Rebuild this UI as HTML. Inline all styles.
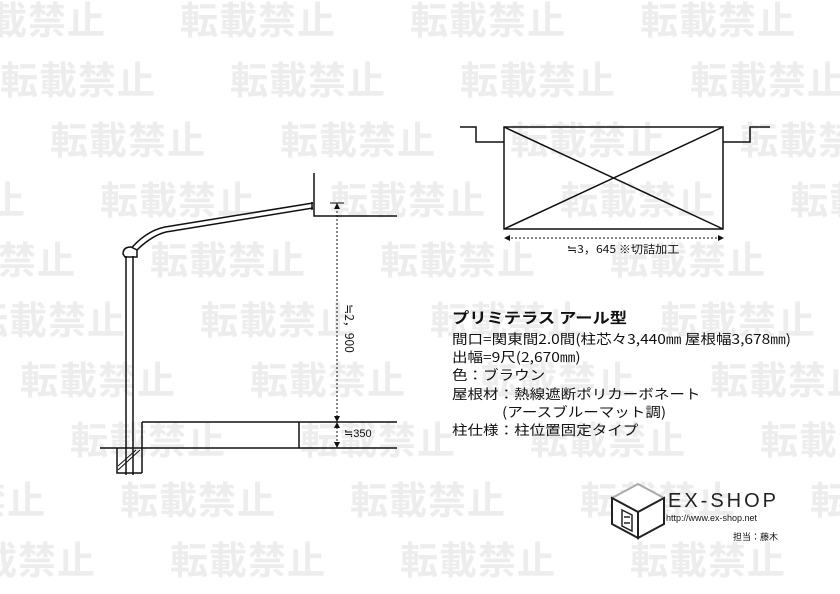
<!DOCTYPE html>
<html><head><meta charset="utf-8"><style>
html,body{margin:0;width:840px;height:594px;overflow:hidden;background:#fff}
#c{position:relative;width:840px;height:594px;overflow:hidden;font-family:"Liberation Sans","Noto Sans CJK JP",sans-serif}
.wm{position:absolute;font:bold 38px "Noto Sans CJK JP",sans-serif;color:#ededed;letter-spacing:1px;white-space:nowrap}
.t{position:absolute;font-size:13px;color:#111;white-space:nowrap;font-family:"Noto Sans CJK JP",sans-serif}
.s{transform-origin:0 0;transform:scaleX(1.15);font-size:13.5px}
svg{position:absolute;left:0;top:0}
</style></head><body><div id="c">
<div id="w"></div>
<script>
var s='';for(var k=0;k<10;k++){var off=(180+50*k)%230-230;for(var x=off;x<840;x+=230){s+='<div class="wm" style="left:'+x+'px;top:'+(k*60-10)+'px">転載禁止</div>';}}
document.getElementById('w').innerHTML=s;
</script>
<svg width="840" height="594" viewBox="0 0 840 594">
<g stroke="#111" fill="none" stroke-width="1.5">
<path d="M314 173V216H397"/>
<path d="M313 203L165 227Q145 231 128 252"/>
<path d="M313 208L166 232Q150 236 133 254"/>
<path d="M312 202v8"/>
<path d="M123 254q0-7 8-7l6 3v7h-12z" fill="#fff"/>
<path d="M126 256V475M133 256V475"/>
<path d="M100 448H397M142 422H397M142 422V473M117 448V473H142M299 422V448"/>
<path d="M118 470L140 450M118 466L136 450" stroke-width="1"/>
<path d="M337 203V448" stroke-dasharray="2 2" stroke-width="1"/>
<path d="M330 203H344M330 422H344M330 448H344" stroke-width="1"/>
<path d="M504 127H723V229H504ZM504 127L723 229M504 229L723 127"/>
<path d="M460 127H476V142H504M723 142H750V127H770"/>
<path d="M507 238H721" stroke-dasharray="2 2" stroke-width="1"/>
</g>
<g fill="#111"><path d="M504 238l6-3v6zM724 238l-6-3v6zM337 203l-3 6h6zM337 422l-3-6h6zM337 422l-3 6h6zM337 448l-3-6h6z"/></g>
<g transform="translate(612,484)" stroke="#555" stroke-width="2" fill="#fff">
<path d="M0 14L26 0L52 14L26 28Z" stroke="#aaa"/>
<path d="M0 14V40L26 54V28Z" fill="#fff" stroke="#222"/>
<path d="M52 14V40L26 54V28Z" fill="#fff" stroke="#222"/>
<path d="M10 26l10 5v16l-10-5zM12 33h6M12 39h6" stroke="#222" stroke-width="1.5"/>
</g>
</svg>
<div class="t" style="left:325px;top:320px;transform:rotate(90deg);font-size:12px">≒2，900</div>
<div class="t" style="left:344px;top:427px;font-size:11px;font-family:'Liberation Sans',sans-serif">≒350</div>
<div class="t" style="left:567px;top:241px;font-size:11px;transform-origin:0 0;transform:scaleX(1.1)">≒3，645 ※切詰加工</div>
<div class="t s" style="left:452px;top:307px;font-size:15px;font-weight:bold">プリミテラス アール型</div>
<div class="t s" style="left:452px;top:328px">間口=関東間2.0間(柱芯々3,440㎜ 屋根幅3,678㎜)</div>
<div class="t s" style="left:452px;top:346px">出幅=9尺(2,670㎜)</div>
<div class="t s" style="left:452px;top:364px">色：ブラウン</div>
<div class="t s" style="left:452px;top:383px">屋根材：熱線遮断ポリカーボネート</div>
<div class="t s" style="left:452px;top:401px">　　　 (アースブルーマット調)</div>
<div class="t s" style="left:452px;top:419px">柱仕様：柱位置固定タイプ</div>
<div class="t" style="left:668px;top:490px;font-size:20px;letter-spacing:3px;font-family:'Liberation Sans',sans-serif;color:#222">EX-SHOP</div>
<div class="t" style="left:666px;top:513px;font-size:9px;font-family:'Liberation Sans',sans-serif">http://www.ex-shop.net</div>
<div class="t" style="left:733px;top:530px;font-size:9px">担当：藤木</div>
</div></body></html>
